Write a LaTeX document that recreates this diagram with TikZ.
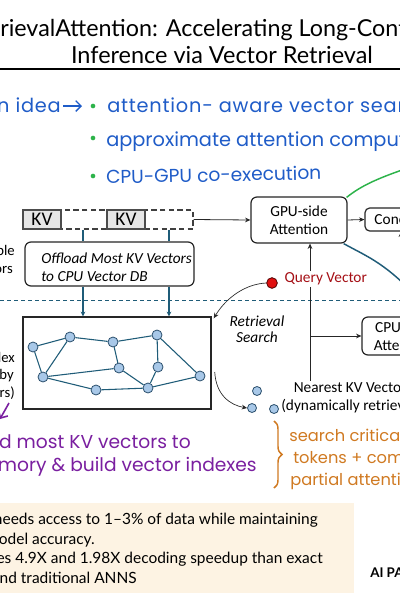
\documentclass[tikz,border=0pt]{standalone}
\usepackage{fontspec}
\setmainfont{Carlito}
\newfontfamily\titlefont{Lato}
\newfontfamily\handfont{Poppins}
\newfontfamily\handfontsp[LetterSpace=4]{Poppins}
\usetikzlibrary{arrows.meta,decorations.pathreplacing,calc}
\definecolor{hblue}{HTML}{1F5CC8}
\definecolor{hgreen}{HTML}{2DB34A}
\definecolor{hpurple}{HTML}{7A1FA0}
\definecolor{horange}{HTML}{D07A22}
\definecolor{edgeteal}{HTML}{1F5C78}
\definecolor{nodefill}{HTML}{A8C8E8}
\definecolor{nodeedge}{HTML}{2A4E6C}
\definecolor{qred}{HTML}{A50F15}
\definecolor{qdotfill}{HTML}{E01010}
\definecolor{beige}{HTML}{FDF3E3}
\definecolor{kvgray}{HTML}{E6E6E6}
\begin{document}
\begin{tikzpicture}[x=0.75pt,y=-0.75pt,
  box/.style={draw=black!85, line width=0.9pt, rounded corners=4.5pt, inner sep=0pt, align=center, font=\fontsize{11.5}{13.5}\selectfont},
  kvbox/.style={draw=black!70, fill=kvgray, line width=0.8pt, minimum width=28.5pt, minimum height=14.25pt, inner sep=0pt, font=\fontsize{14.5}{15}\selectfont},
  conn/.style={draw=black!85, line width=0.6pt, -{Stealth[length=4pt,width=3.5pt]}},
  tconn/.style={draw=edgeteal, line width=0.8pt, -{Stealth[length=3.5pt,width=3.5pt]}},
  tline/.style={draw=edgeteal, line width=0.8pt},
  gnode/.style={circle, draw=nodeedge, fill=nodefill, line width=0.6pt, minimum size=7.5pt, inner sep=0pt},
  gedge/.style={draw=edgeteal, line width=0.8pt},
  hand/.style={font=\handfont\fontsize{14.5}{17}\selectfont, inner sep=0pt},
  handsp/.style={font=\handfontsp\fontsize{14.5}{17}\selectfont, inner sep=0pt},
  lbl/.style={font=\fontsize{11}{13}\selectfont, inner sep=0pt},
  bullet/.style={circle, fill=hgreen, minimum size=3.5pt, inner sep=0pt},
  btxt/.style={font=\titlefont\fontsize{11.6}{13}\selectfont, inner sep=0pt, anchor=base east}
]
\clip (0,0) rectangle (400,600);
\fill[white] (0,0) rectangle (400,600);

% title
\node[anchor=base west, inner sep=0pt, font=\titlefont\fontsize{17.5}{20}\selectfont] (t1) at (0,36) {\llap{Ret}rievalAttention: Accelerating Long-Context LLM};
\node[anchor=base, inner sep=0pt, font=\titlefont\fontsize{17.6}{20}\selectfont] (t2) at (222,63) {Inference via Vector Retrieval};
\draw[line width=0.8pt] (0,69) -- (400,69);

% main idea
\node[handsp, text=hblue, anchor=base east] (idea) at (61,112) {Main idea};
\coordinate (ia1) at (63,106);
\coordinate (ia2) at (82,106);
\draw[hblue, line width=1pt, -{Straight Barb[length=4pt]}] (ia1) -- (ia2);
\node[bullet] (b1) at (93,106) {};
\node[bullet] (b2) at (93,138) {};
\node[bullet] (b3) at (93,176) {};
\node[handsp, text=hblue, anchor=base west] (i1) at (107,112) {attention- aware vector search};
\node[hand, text=hblue, anchor=base west] (i2) at (106,146) {approximate attention computation};
\node[hand, text=hblue, anchor=base west, rotate=1.2, font=\handfont\fontsize{14}{17}\selectfont] (i3) at (106,184) {CPU-GPU co-execution};

% GPU side
\node[box, minimum width=72pt, minimum height=34.5pt] (gpu) at (299,220) {GPU-side\\Attention};
\node[box, minimum width=46.5pt, minimum height=17.25pt, rounded corners=3.5pt] (con) at (396,219.5) {Concat};
\draw[conn] (gpu.east) -- (con.west);
\coordinate (gend) at (420,164);
\coordinate (tend) at (420,300);
\draw[hgreen, line width=1.1pt] ($(gpu.north east)+(-1,1)$) .. controls (362,185) and (380,177) .. (gend);
\draw[edgeteal, line width=1.1pt] ($(gpu.south east)+(-4,0)$) .. controls (370,258) and (385,263) .. (tend);

% KV row
\node[draw=black!75, dashed, dash pattern=on 4pt off 2.5pt, line width=0.8pt, minimum width=127.5pt, minimum height=14.25pt, inner sep=0pt] (row) at (108,219.5) {};
\node[kvbox] (kv1) at (42,219.5) {KV};
\node[kvbox] (kv2) at (126,219.5) {KV};
\draw[conn] (row.east) -- (gpu.west);

% offload box
\node[box, minimum width=126.75pt, minimum height=33pt] (offload) at (109.5,264) {};
\node[anchor=west, align=left, inner sep=0pt, font=\itshape\fontsize{11.5}{13.5}\selectfont] (offtxt) at (41,267) {Offload Most KV Vectors\\to CPU Vector DB};
\coordinate (c1) at (83,0);
\coordinate (c2) at (169,0);
\draw[tline] (row.south -| c1) -- (offload.north -| c1);
\draw[tline] (row.south -| c2) -- (offload.north -| c2);

% left texts
\node[lbl, anchor=base east] (l1) at (15,255) {Sample};
\node[lbl, anchor=base east] (l2) at (13,273) {vectors};
\node[lbl, anchor=base east] (l3) at (15,362) {Index};
\node[lbl, anchor=base east] (l4) at (14,379) {by};
\node[lbl, anchor=base east] (l5) at (15,397) {vectors)};

% dashed separator
\draw[edgeteal, line width=0.6pt, dash pattern=on 3pt off 2.25pt] (0,300) -- (400,300);

% graph box
\node[draw=black!85, line width=1.1pt, minimum width=141pt, minimum height=69pt, inner sep=0pt] (graph) at (117,363) {};
\draw[tconn] (offload.south -| c1) -- (graph.north -| c1);
\draw[tconn] (offload.south -| c2) -- (graph.north -| c2);

\node[gnode] (g1) at (33,347) {};
\node[gnode] (g2) at (70,337) {};
\node[gnode] (g3) at (113,342) {};
\node[gnode] (g4) at (157,335) {};
\node[gnode] (g5) at (43,377) {};
\node[gnode] (g6) at (119,368) {};
\node[gnode] (g7) at (158,367) {};
\node[gnode] (g8) at (200,376) {};
\node[gnode] (g9) at (96,390) {};
\node[gnode] (g10) at (148,388) {};
\draw[gedge] (g1) -- (g2);
\draw[gedge] (g1) -- (g5);
\draw[gedge] (g2) -- (g5);
\draw[gedge] (g2) -- (g3);
\draw[gedge] (g3) -- (g4);
\draw[gedge] (g3) -- (g6);
\draw[gedge] (g5) -- (g6);
\draw[gedge] (g5) -- (g9);
\draw[gedge] (g6) -- (g10);
\draw[gedge] (g9) -- (g10);
\draw[gedge] (g4) -- (g7);
\draw[gedge] (g4) -- (g8);
\draw[gedge] (g7) -- (g10);
\draw[gedge] (g10) -- (g8);

% query
\node[circle, draw=black!70!red, fill=qdotfill, line width=0.6pt, minimum size=8pt, inner sep=0pt] (qd) at (272,283) {};
\node[anchor=west, inner sep=1pt, text=qred, font=\fontsize{11.5}{13}\selectfont] (qv) at (283,279) {Query Vector};
\coordinate (vx) at (310,0);
\draw[conn] (qv.north -| vx) -- (gpu.south -| vx);
\draw[conn, line width=0.5pt] (qd.west) .. controls (245,284) and (226,298) .. ($(graph.north east)+(2,2)$);

\node[anchor=center, align=center, inner sep=0pt, font=\itshape\fontsize{11.5}{12}\selectfont] (rs) at (257,329) {Retrieval\\Search};

% CPU side
\node[box, minimum width=61.5pt, minimum height=28.5pt] (cpu) at (403,336) {CPU-side\\Attention};
\node[align=center, inner sep=1pt, font=\fontsize{11.5}{13.5}\selectfont] (near) at (353,398) {Nearest KV Vectors\\(dynamically retrieved)};
\draw[line width=0.6pt, black!85] (qv.south -| vx) -- (near.north -| vx);
\draw[conn] (vx |- cpu.west) -- (cpu.west);
\coordinate (vr) at (401,0);
\draw[conn] (vr |- cpu.north) -- (vr |- con.south);

\node[circle, draw=nodeedge, fill=nodefill, line width=0.6pt, minimum size=6.75pt, inner sep=0pt] (s1) at (257,391) {};
\node[circle, draw=nodeedge, fill=nodefill, line width=0.6pt, minimum size=6.75pt, inner sep=0pt] (s2) at (252,408) {};
\node[circle, draw=nodeedge, fill=nodefill, line width=0.6pt, minimum size=6.75pt, inner sep=0pt] (s3) at (274,409) {};
\draw[conn, line width=0.5pt] ($(graph.east)+(3,9)$) .. controls (216,395) and (230,405) .. (s2.west);

% purple notes
\coordinate (pa1) at (9,403);
\coordinate (pa2) at (0,419);
\draw[hpurple, line width=1.2pt, -{Straight Barb[length=4pt]}] (pa1) -- (pa2);
\node[hand, text=hpurple, anchor=base east, font=\handfont\fontsize{14}{16}\selectfont] (p1) at (191,448) {offload most KV vectors to};
\node[hand, text=hpurple, anchor=base east, font=\handfont\fontsize{14}{16}\selectfont] (p2) at (257,471) {memory \& build vector indexes};

% orange notes
\coordinate (br1) at (274,421);
\coordinate (br2) at (274,488);
\draw[horange, line width=1.1pt, decorate, decoration={brace, amplitude=6pt}] (br1) -- (br2);
\node[hand, text=horange, anchor=base west, font=\handfont\fontsize{12.2}{15}\selectfont] (o1) at (289,441) {search critical};
\node[hand, text=horange, anchor=base west, font=\handfont\fontsize{12.2}{15}\selectfont] (o2) at (293,463) {tokens + compute};
\node[hand, text=horange, anchor=base west, font=\handfont\fontsize{12.2}{15}\selectfont] (o3) at (290,485) {partial attention};

% summary box
\fill[beige] (-5,503) rectangle (354,593);
\node[btxt] (s1t) at (318,524) {Only needs access to 1–3\% of data while maintaining};
\node[btxt] (s2t) at (95,544) {model accuracy.};
\node[btxt] (s3t) at (323,563) {Achieves 4.9X and 1.98X decoding speedup than exact};
\node[btxt] (s4t) at (137,583) {kNN and traditional ANNS};
\node[anchor=west, inner sep=0pt, font=\titlefont\bfseries\fontsize{10}{12}\selectfont] (aip) at (370,573) {AI PAPERS};
\end{tikzpicture}
\end{document}
